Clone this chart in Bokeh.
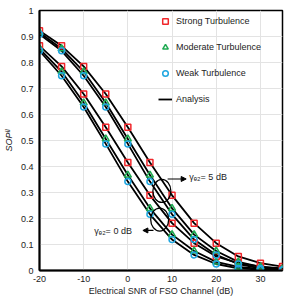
from math import pi
from bokeh.plotting import figure
from bokeh.models import (Legend, LegendItem, Label, Arrow, NormalHead,
                          FixedTicker, Range1d)
from bokeh.embed import file_html
from bokeh.resources import INLINE

# ---- data ----
snr = [-20, -15, -10, -5, 0, 5, 10, 15, 20, 25, 30, 35]

strong_5 = [0.922, 0.864, 0.785, 0.679, 0.551, 0.415, 0.289, 0.182, 0.105, 0.054, 0.028, 0.015]
moderate_5 = [0.915, 0.853, 0.765, 0.645, 0.506, 0.367, 0.239, 0.138, 0.075, 0.033, 0.014, 0.006]
weak_5 = [0.909, 0.845, 0.749, 0.629, 0.487, 0.342, 0.216, 0.119, 0.060, 0.025, 0.008, 0.003]

strong_0 = [0.864, 0.785, 0.679, 0.551, 0.415, 0.289, 0.182, 0.105, 0.054, 0.028, 0.015, 0.008]
moderate_0 = [0.853, 0.765, 0.645, 0.506, 0.367, 0.239, 0.138, 0.075, 0.033, 0.014, 0.006, 0.003]
weak_0 = [0.845, 0.749, 0.629, 0.487, 0.342, 0.216, 0.119, 0.060, 0.025, 0.008, 0.003, 0.001]

x_ticks = [-20, -10, 0, 10, 20, 30]
x_tick_labels = ["-20", "-10", "0", "10", "20", "30"]
y_ticks = [0.0, 0.1, 0.2, 0.3, 0.4, 0.5, 0.6, 0.7, 0.8, 0.9, 1.0]
y_tick_labels = ["0", "0.1", "0.2", "0.3", "0.4", "0.5", "0.6", "0.7", "0.8", "0.9", "1"]

legend_labels = ["Strong Turbulence", "Moderate Turbulence", "Weak Turbulence", "Analysis"]
x_title = "Electrical SNR of FSO Channel (dB)"
y_title = "SOPᴵᴵ"
note_5 = "γₑ₂= 5 dB"
note_0 = "γₑ₂= 0 dB"

# ---- styles ----
RED = "#f0262a"
GREEN = "#1faa52"
BLUE = "#1ea6e0"
FONT = "Liberation Sans"

p = figure(width=291, height=299, output_backend="svg", toolbar_location=None,
           x_range=Range1d(-20, 35), y_range=Range1d(0, 1),
           min_border_left=36, min_border_right=9, min_border_top=10,
           min_border_bottom=29)
p.background_fill_color = "white"
p.border_fill_color = "white"
p.outline_line_color = "black"
p.outline_line_width = 1.5

# axes
for ax in (p.xaxis[0], p.yaxis[0]):
    ax.axis_line_width = 2
    ax.axis_line_color = "black"
    ax.major_tick_out = 0
    ax.major_tick_in = 0
    ax.minor_tick_out = 0
    ax.minor_tick_in = 0
    ax.major_label_text_font = FONT
    ax.major_label_text_font_size = "9px"
    ax.major_label_text_color = "#222222"
    ax.axis_label_text_font = FONT
    ax.axis_label_text_font_size = "9px"
    ax.axis_label_text_color = "#222222"

p.xaxis.ticker = FixedTicker(ticks=x_ticks)
p.yaxis.ticker = FixedTicker(ticks=y_ticks)
p.xaxis.major_label_overrides = dict(zip(x_ticks, x_tick_labels))
p.yaxis.major_label_overrides = dict(zip(y_ticks, y_tick_labels))
p.xaxis.major_label_standoff = 5
p.yaxis.major_label_standoff = 6
p.xaxis.axis_label = x_title
p.xaxis.axis_label_standoff = 1
p.xaxis.axis_label_text_font_style = "normal"
p.yaxis.axis_label = y_title
p.yaxis.axis_label_standoff = 4
p.yaxis.axis_label_text_font_style = "italic"

p.xgrid.grid_line_color = "#e3e3e3"
p.ygrid.grid_line_color = "#e3e3e3"
p.xgrid.grid_line_width = 1
p.ygrid.grid_line_width = 1

# analysis curves
line_r = None
for ys in (strong_5, moderate_5, weak_5, strong_0, moderate_0, weak_0):
    line_r = p.line(snr, ys, line_color="black", line_width=1.8)

# simulation markers
sq_r = None
tr_r = None
ci_r = None
for ys in (strong_5, strong_0):
    sq_r = p.scatter(snr, ys, marker="square", size=6, fill_alpha=0,
                     line_color=RED, line_width=1.5)
for ys in (moderate_5, moderate_0):
    tr_r = p.scatter(snr, ys, marker="triangle", size=7, fill_alpha=0,
                     line_color=GREEN, line_width=1.5)
for ys in (weak_5, weak_0):
    ci_r = p.scatter(snr, ys, marker="circle", size=6, fill_alpha=0,
                     line_color=BLUE, line_width=1.5)

# annotation ellipses
p.ellipse(x=[7.7], y=[0.306], width=18, height=23, width_units="screen",
          height_units="screen", fill_alpha=0, line_color="black", line_width=1.3)
p.ellipse(x=[7.2], y=[0.196], width=18, height=23, width_units="screen",
          height_units="screen", fill_alpha=0, line_color="black", line_width=1.3)

p.add_layout(Arrow(end=NormalHead(size=5, fill_color="black", line_color="black"),
                   x_start=9.0, y_start=0.352, x_end=13.2, y_end=0.352,
                   line_width=1.2, line_color="black"))
p.add_layout(Arrow(end=NormalHead(size=5, fill_color="black", line_color="black"),
                   x_start=5.8, y_start=0.154, x_end=3.4, y_end=0.154,
                   line_width=1.2, line_color="black"))

p.add_layout(Label(x=13.9, y=0.358, text=note_5, text_font=FONT,
                   text_font_size="9px", text_baseline="middle",
                   text_color="#222222"))
p.add_layout(Label(x=-7.6, y=0.151, text=note_0, text_font=FONT,
                   text_font_size="9px", text_baseline="middle",
                   text_color="#222222"))

legend = Legend(items=[
    LegendItem(label=legend_labels[0], renderers=[sq_r]),
    LegendItem(label=legend_labels[1], renderers=[tr_r]),
    LegendItem(label=legend_labels[2], renderers=[ci_r]),
    LegendItem(label=legend_labels[3], renderers=[line_r]),
], location=(115, 159))
legend.background_fill_alpha = 0
legend.border_line_alpha = 0
legend.padding = 4
legend.margin = 0
legend.glyph_width = 14
legend.glyph_height = 16
legend.label_height = 16
legend.spacing = 10
legend.label_standoff = 4
legend.label_text_font = FONT
legend.label_text_font_size = "9px"
legend.label_text_color = "#222222"
p.add_layout(legend, "center")

open("out.html", "w").write(file_html(p, INLINE))
